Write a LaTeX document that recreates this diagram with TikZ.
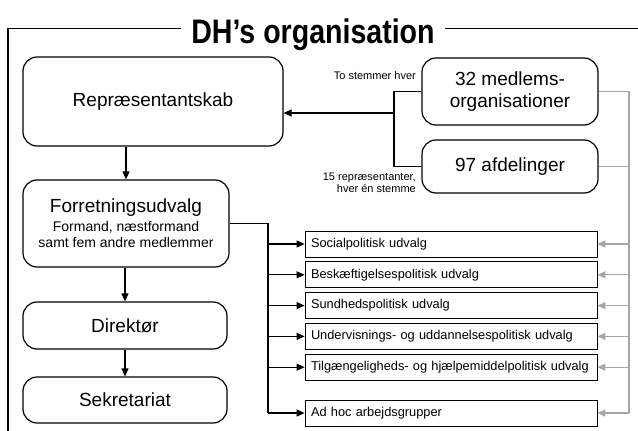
\documentclass[tikz,border=0pt]{standalone}
\usepackage{fontspec}
\setmainfont{Liberation Sans}
\newfontfamily\titlefont[FakeStretch=0.84]{Liberation Sans}
\usetikzlibrary{positioning, arrows.meta}

\begin{document}
\begin{tikzpicture}[
    x=1pt, y=-1pt,
    node distance=4pt,
    mainbox/.style={rectangle, draw, rounded corners=14pt, line width=1.2pt, inner sep=0pt, align=center, font=\fontsize{19}{21.5}\selectfont},
    subbox/.style={rectangle, draw, line width=0.8pt, minimum height=26pt, text width=280pt, inner xsep=6pt, inner ysep=0pt, align=left, font=\fontsize{12.8}{14}\selectfont},
    note/.style={align=right, inner sep=0pt, font=\fontsize{11}{12}\selectfont},
    line/.style={line width=1.1pt},
    arrow/.style={-{Triangle[length=8pt,width=7pt]}, line width=1.1pt},
    feed/.style={-{Triangle[length=8pt,width=7pt]}, line width=1.1pt, draw=black!35, fill=black!35}
  ]
  \useasboundingbox (0,0) rectangle (638,431);

  % Frame and title
  \draw[line width=1.2pt] (8,431) -- (8,28.5) -- (638,28.5);
  \node[fill=white, inner xsep=10pt, anchor=base, font=\titlefont\bfseries\fontsize{34}{36}\selectfont] (title) at (313,43) {DH’s organisation};

  % Left column
  \node[mainbox, minimum width=260pt, minimum height=89pt] (rep) at (153,101.5) {Repræsentantskab};
  \node[mainbox, minimum width=206pt, minimum height=87pt, font=\fontsize{14}{16}\selectfont] (forr) at (126,223.5) {{\fontsize{19}{21}\selectfont Forretningsudvalg}\\[3pt]Formand, næstformand\\samt fem andre medlemmer};
  \node[mainbox, minimum width=204pt, minimum height=47pt] (dir) at (125,325.5) {Direktør};
  \node[mainbox, minimum width=204pt, minimum height=46pt] (sek) at (125,400) {Sekretariat};

  % Members
  \node[mainbox, minimum width=176pt, minimum height=67pt] (org) at (510,91.5) {32 medlems-\\organisationer};
  \node[mainbox, minimum width=176pt, minimum height=53pt] (afd) at (510,166.5) {97 afdelinger};
  \node[note, anchor=east] (votes) at (416,76) {To stemmer hver};
  \node[note, anchor=east] (reps) at (416,182.5) {15 repræsentanter,\\hver én stemme};

  % Committees
  \node[subbox] (soc) at (451,244) {Socialpolitisk udvalg};
  \node[subbox, below=of soc] (besk) {Beskæftigelsespolitisk udvalg};
  \node[subbox, below=of besk] (sund) {Sundhedspolitisk udvalg};
  \node[subbox, below=of sund] (underv) {Undervisnings- og uddannelsespolitisk udvalg};
  \node[subbox, below=of underv] (tilg) {Tilgængeligheds- og hjælpemiddelpolitisk udvalg};
  \node[subbox, below=19pt of tilg] (adhoc) {Ad hoc arbejdsgrupper};

  % Arrows down the left column
  \draw[arrow] (forr.north |- rep.south) -- (forr.north);
  \draw[arrow] (dir.north |- forr.south) -- (dir.north);
  \draw[arrow] (dir.south) -- (sek.north);

  % Members to Repræsentantskab
  \coordinate (vote) at (394,113);
  \draw[line] (org.west) -- (org.west -| vote) -- (afd.west -| vote) -- (afd.west);
  \draw[arrow] (vote) -- (vote -| rep.east);

  % Forretningsudvalg to committees
  \coordinate (split) at (268,0);
  \draw[line] (forr.east) -- (forr.east -| split) -- (adhoc.west -| split);
  \foreach \n in {soc, besk, sund, underv, tilg, adhoc}
    \draw[arrow] (\n.west -| split) -- (\n.west);

  % Members feed committees
  \coordinate (feedx) at (629,0);
  \draw[line, black!35] (org.east) -- (org.east -| feedx) -- (adhoc.east -| feedx);
  \draw[line, black!35] (afd.east) -- (afd.east -| feedx);
  \foreach \n in {soc, besk, sund, underv, tilg, adhoc}
    \draw[feed] (\n.east -| feedx) -- (\n.east);
\end{tikzpicture}
\end{document}
